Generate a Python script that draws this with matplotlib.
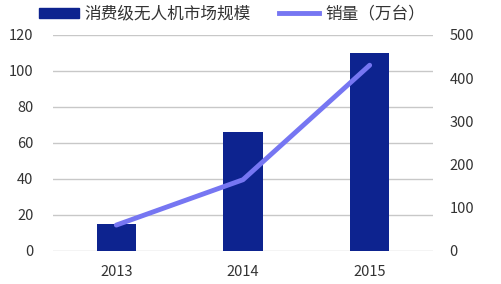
import matplotlib
matplotlib.use("Agg")
import matplotlib.pyplot as plt
from matplotlib.patches import Patch
from matplotlib.lines import Line2D

plt.rcParams['font.family'] = ['Noto Sans CJK SC', 'DejaVu Sans']

years = ["2013", "2014", "2015"]
market_size = [15, 66, 110]
sales = [60, 165, 430]

bar_color = "#0d238f"
line_color = "#7676f2"

fig = plt.figure(figsize=(5.02, 2.84), dpi=100)
ax = fig.add_axes([53/502, 1 - 251/284, 380/502, 216/284])
x = range(len(years))
ax.bar(x, market_size, width=0.31, color=bar_color, zorder=3)
ax.set_xlim(-0.5, 2.5)
ax.set_ylim(0, 120)
ax.set_yticks(range(0, 121, 20))
ax.set_xticks(list(x))
ax.set_xticklabels(years)
ax.grid(axis='y', color='#c8c8c8', linewidth=1, zorder=0)
for s in ax.spines.values():
    s.set_visible(False)
ax.tick_params(length=0, labelsize=10.5, colors='#333333')
ax.tick_params(axis='y', pad=14)
ax.tick_params(axis='x', pad=10)

ax2 = ax.twinx()
ax2.plot(list(x), sales, color=line_color, linewidth=3.5, solid_capstyle='round', zorder=4)
ax2.set_ylim(0, 500)
ax2.set_yticks(range(0, 501, 100))
for s in ax2.spines.values():
    s.set_visible(False)
ax2.tick_params(length=0, labelsize=10.5, colors='#333333', pad=12)

handles = [Patch(color=bar_color), Line2D([0], [0], color=line_color, linewidth=3.5)]
labels = ["消费级无人机市场规模", "销量（万台）"]
fig.legend(handles, labels, loc='center left', bbox_to_anchor=(39/502, 1 - 14/284), ncol=2,
           frameon=False, fontsize=12, handlelength=2.4, handleheight=0.55,
           columnspacing=1.7, handletextpad=0.35, borderpad=0, borderaxespad=0,
           labelcolor='#333333')

fig.savefig("out.png", dpi=100)
